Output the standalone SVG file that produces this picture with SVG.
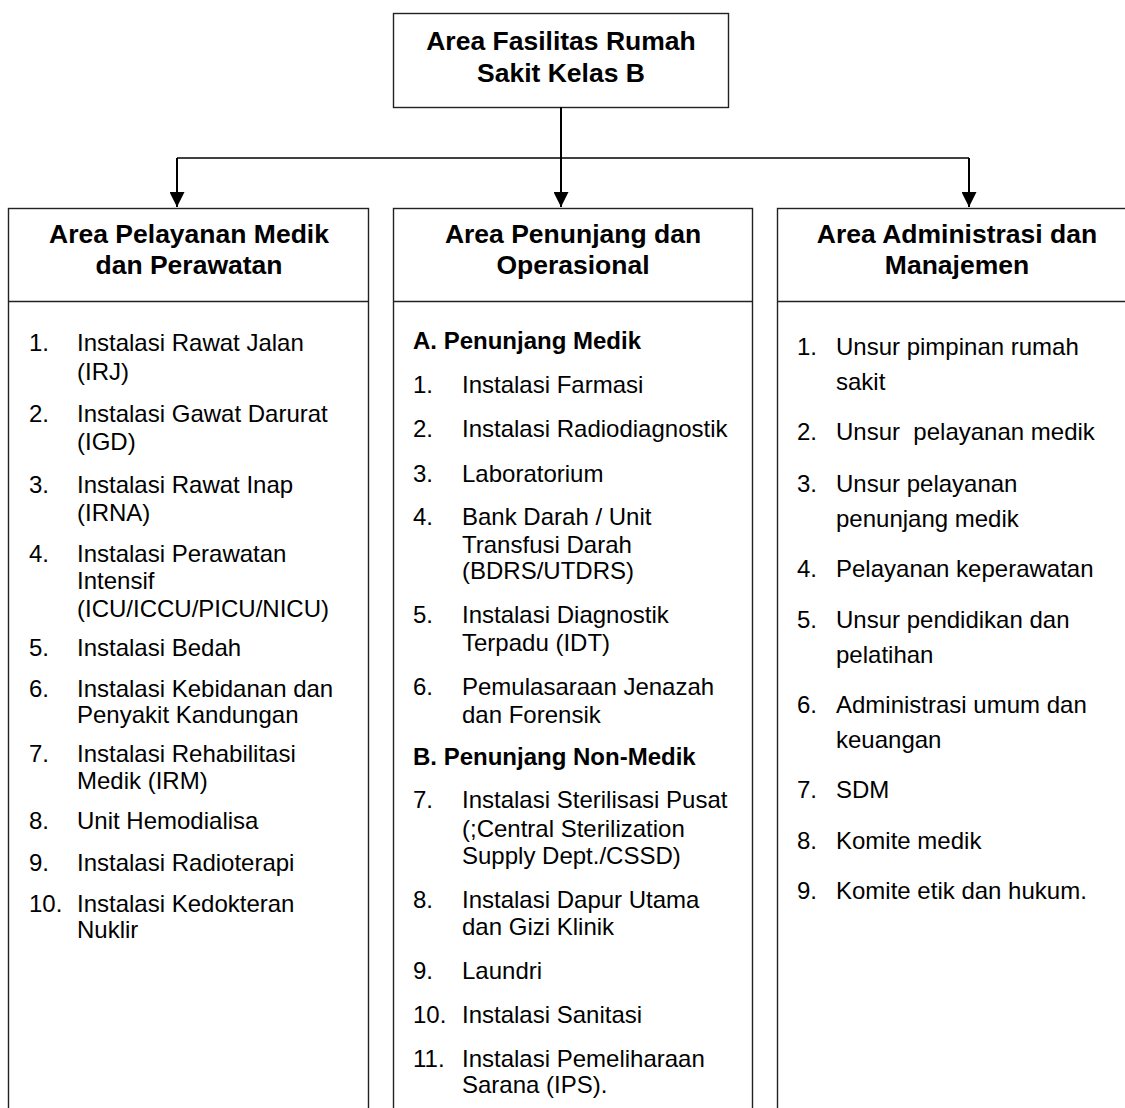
<svg xmlns="http://www.w3.org/2000/svg" width="1125" height="1108" viewBox="0 0 1125 1108">
  <style>
    .box { fill: #ffffff; stroke: #222222; stroke-width: 1.4; }
    .div { stroke: #222222; stroke-width: 1.4; }
    .wire { fill: none; stroke: #000000; }
    text { font-family: "Liberation Sans", Arial, sans-serif; fill: #000000; }
    .title { font-size: 26.5px; font-weight: bold; text-anchor: middle; }
    .item { font-size: 24px; white-space: pre; }
    .sub { font-size: 24px; font-weight: bold; }
  </style>
  <defs>
    <marker id="arrow" markerUnits="userSpaceOnUse" markerWidth="16" markerHeight="15" refX="15" refY="7.5" orient="auto">
      <path d="M0,0 L15,7.5 L0,15 Z" fill="#000000"/>
    </marker>
  </defs>

  <rect width="1125" height="1108" fill="#ffffff"/>

  <!-- Root node -->
  <g id="root">
    <rect class="box" x="393.5" y="13.5" width="335" height="94"/>
    <text class="title" x="561" y="50">Area Fasilitas Rumah</text>
    <text class="title" x="561" y="82">Sakit Kelas B</text>
  </g>

  <!-- Connectors -->
  <g id="connectors">
    <path class="wire" stroke-width="2" d="M561,107 V207" marker-end="url(#arrow)"/>
    <path class="wire" stroke-width="1.3" d="M177,158 H969"/>
    <path class="wire" stroke-width="2" d="M177,158 V207" marker-end="url(#arrow)"/>
    <path class="wire" stroke-width="2" d="M969,158 V207" marker-end="url(#arrow)"/>
  </g>

  <!-- Medical services -->
  <g id="medik">
    <rect class="box" x="8.5" y="208.5" width="360" height="930"/>
    <line class="div" x1="8.5" y1="301.5" x2="368.5" y2="301.5"/>
    <text class="title" x="189" y="243">Area Pelayanan Medik</text>
    <text class="title" x="189" y="274">dan Perawatan</text>
    <g class="item">
      <text class="item" x="29" y="351">1.</text>
      <text class="item" x="77" y="351">Instalasi Rawat Jalan</text>
      <text class="item" x="77" y="380">(IRJ)</text>
      <text class="item" x="29" y="422">2.</text>
      <text class="item" x="77" y="422">Instalasi Gawat Darurat</text>
      <text class="item" x="77" y="450">(IGD)</text>
      <text class="item" x="29" y="493">3.</text>
      <text class="item" x="77" y="493">Instalasi Rawat Inap</text>
      <text class="item" x="77" y="521">(IRNA)</text>
      <text class="item" x="29" y="562">4.</text>
      <text class="item" x="77" y="562">Instalasi Perawatan</text>
      <text class="item" x="77" y="589">Intensif</text>
      <text class="item" x="77" y="617">(ICU/ICCU/PICU/NICU)</text>
      <text class="item" x="29" y="656">5.</text>
      <text class="item" x="77" y="656">Instalasi Bedah</text>
      <text class="item" x="29" y="697">6.</text>
      <text class="item" x="77" y="697">Instalasi Kebidanan dan</text>
      <text class="item" x="77" y="723">Penyakit Kandungan</text>
      <text class="item" x="29" y="762">7.</text>
      <text class="item" x="77" y="762">Instalasi Rehabilitasi</text>
      <text class="item" x="77" y="789">Medik (IRM)</text>
      <text class="item" x="29" y="829">8.</text>
      <text class="item" x="77" y="829">Unit Hemodialisa</text>
      <text class="item" x="29" y="871">9.</text>
      <text class="item" x="77" y="871">Instalasi Radioterapi</text>
      <text class="item" x="29" y="912">10.</text>
      <text class="item" x="77" y="912">Instalasi Kedokteran</text>
      <text class="item" x="77" y="938">Nuklir</text>
    </g>
  </g>

  <!-- Support and operations -->
  <g id="penunjang">
    <rect class="box" x="393.5" y="208.5" width="359" height="930"/>
    <line class="div" x1="393.5" y1="301.5" x2="752.5" y2="301.5"/>
    <text class="title" x="573" y="243">Area Penunjang dan</text>
    <text class="title" x="573" y="274">Operasional</text>
    <text class="sub" x="413" y="349">A. Penunjang Medik</text>
    <text class="item" x="413" y="393">1.</text>
    <text class="item" x="462" y="393">Instalasi Farmasi</text>
    <text class="item" x="413" y="437">2.</text>
    <text class="item" x="462" y="437">Instalasi Radiodiagnostik</text>
    <text class="item" x="413" y="482">3.</text>
    <text class="item" x="462" y="482">Laboratorium</text>
    <text class="item" x="413" y="525">4.</text>
    <text class="item" x="462" y="525">Bank Darah / Unit</text>
    <text class="item" x="462" y="553">Transfusi Darah</text>
    <text class="item" x="462" y="579">(BDRS/UTDRS)</text>
    <text class="item" x="413" y="623">5.</text>
    <text class="item" x="462" y="623">Instalasi Diagnostik</text>
    <text class="item" x="462" y="651">Terpadu (IDT)</text>
    <text class="item" x="413" y="695">6.</text>
    <text class="item" x="462" y="695">Pemulasaraan Jenazah</text>
    <text class="item" x="462" y="723">dan Forensik</text>
    <text class="sub" x="413" y="765">B. Penunjang Non-Medik</text>
    <text class="item" x="413" y="808">7.</text>
    <text class="item" x="462" y="808">Instalasi Sterilisasi Pusat</text>
    <text class="item" x="462" y="837">(;Central Sterilization</text>
    <text class="item" x="462" y="864">Supply Dept./CSSD)</text>
    <text class="item" x="413" y="908">8.</text>
    <text class="item" x="462" y="908">Instalasi Dapur Utama</text>
    <text class="item" x="462" y="935">dan Gizi Klinik</text>
    <text class="item" x="413" y="979">9.</text>
    <text class="item" x="462" y="979">Laundri</text>
    <text class="item" x="413" y="1023">10.</text>
    <text class="item" x="462" y="1023">Instalasi Sanitasi</text>
    <text class="item" x="413" y="1067">11.</text>
    <text class="item" x="462" y="1067">Instalasi Pemeliharaan</text>
    <text class="item" x="462" y="1093">Sarana (IPS).</text>
  </g>

  <!-- Administration and management -->
  <g id="administrasi">
    <rect class="box" x="777.5" y="208.5" width="400" height="930"/>
    <line class="div" x1="777.5" y1="301.5" x2="1177.5" y2="301.5"/>
    <text class="title" x="957" y="243">Area Administrasi dan</text>
    <text class="title" x="957" y="274">Manajemen</text>
    <text class="item" x="797" y="355">1.</text>
    <text class="item" x="836" y="355">Unsur pimpinan rumah</text>
    <text class="item" x="836" y="390">sakit</text>
    <text class="item" x="797" y="440">2.</text>
    <text class="item" x="836" y="440">Unsur  pelayanan medik</text>
    <text class="item" x="797" y="492">3.</text>
    <text class="item" x="836" y="492">Unsur pelayanan</text>
    <text class="item" x="836" y="527">penunjang medik</text>
    <text class="item" x="797" y="577">4.</text>
    <text class="item" x="836" y="577">Pelayanan keperawatan</text>
    <text class="item" x="797" y="628">5.</text>
    <text class="item" x="836" y="628">Unsur pendidikan dan</text>
    <text class="item" x="836" y="663">pelatihan</text>
    <text class="item" x="797" y="713">6.</text>
    <text class="item" x="836" y="713">Administrasi umum dan</text>
    <text class="item" x="836" y="748">keuangan</text>
    <text class="item" x="797" y="798">7.</text>
    <text class="item" x="836" y="798">SDM</text>
    <text class="item" x="797" y="849">8.</text>
    <text class="item" x="836" y="849">Komite medik</text>
    <text class="item" x="797" y="899">9.</text>
    <text class="item" x="836" y="899">Komite etik dan hukum.</text>
  </g>
</svg>
